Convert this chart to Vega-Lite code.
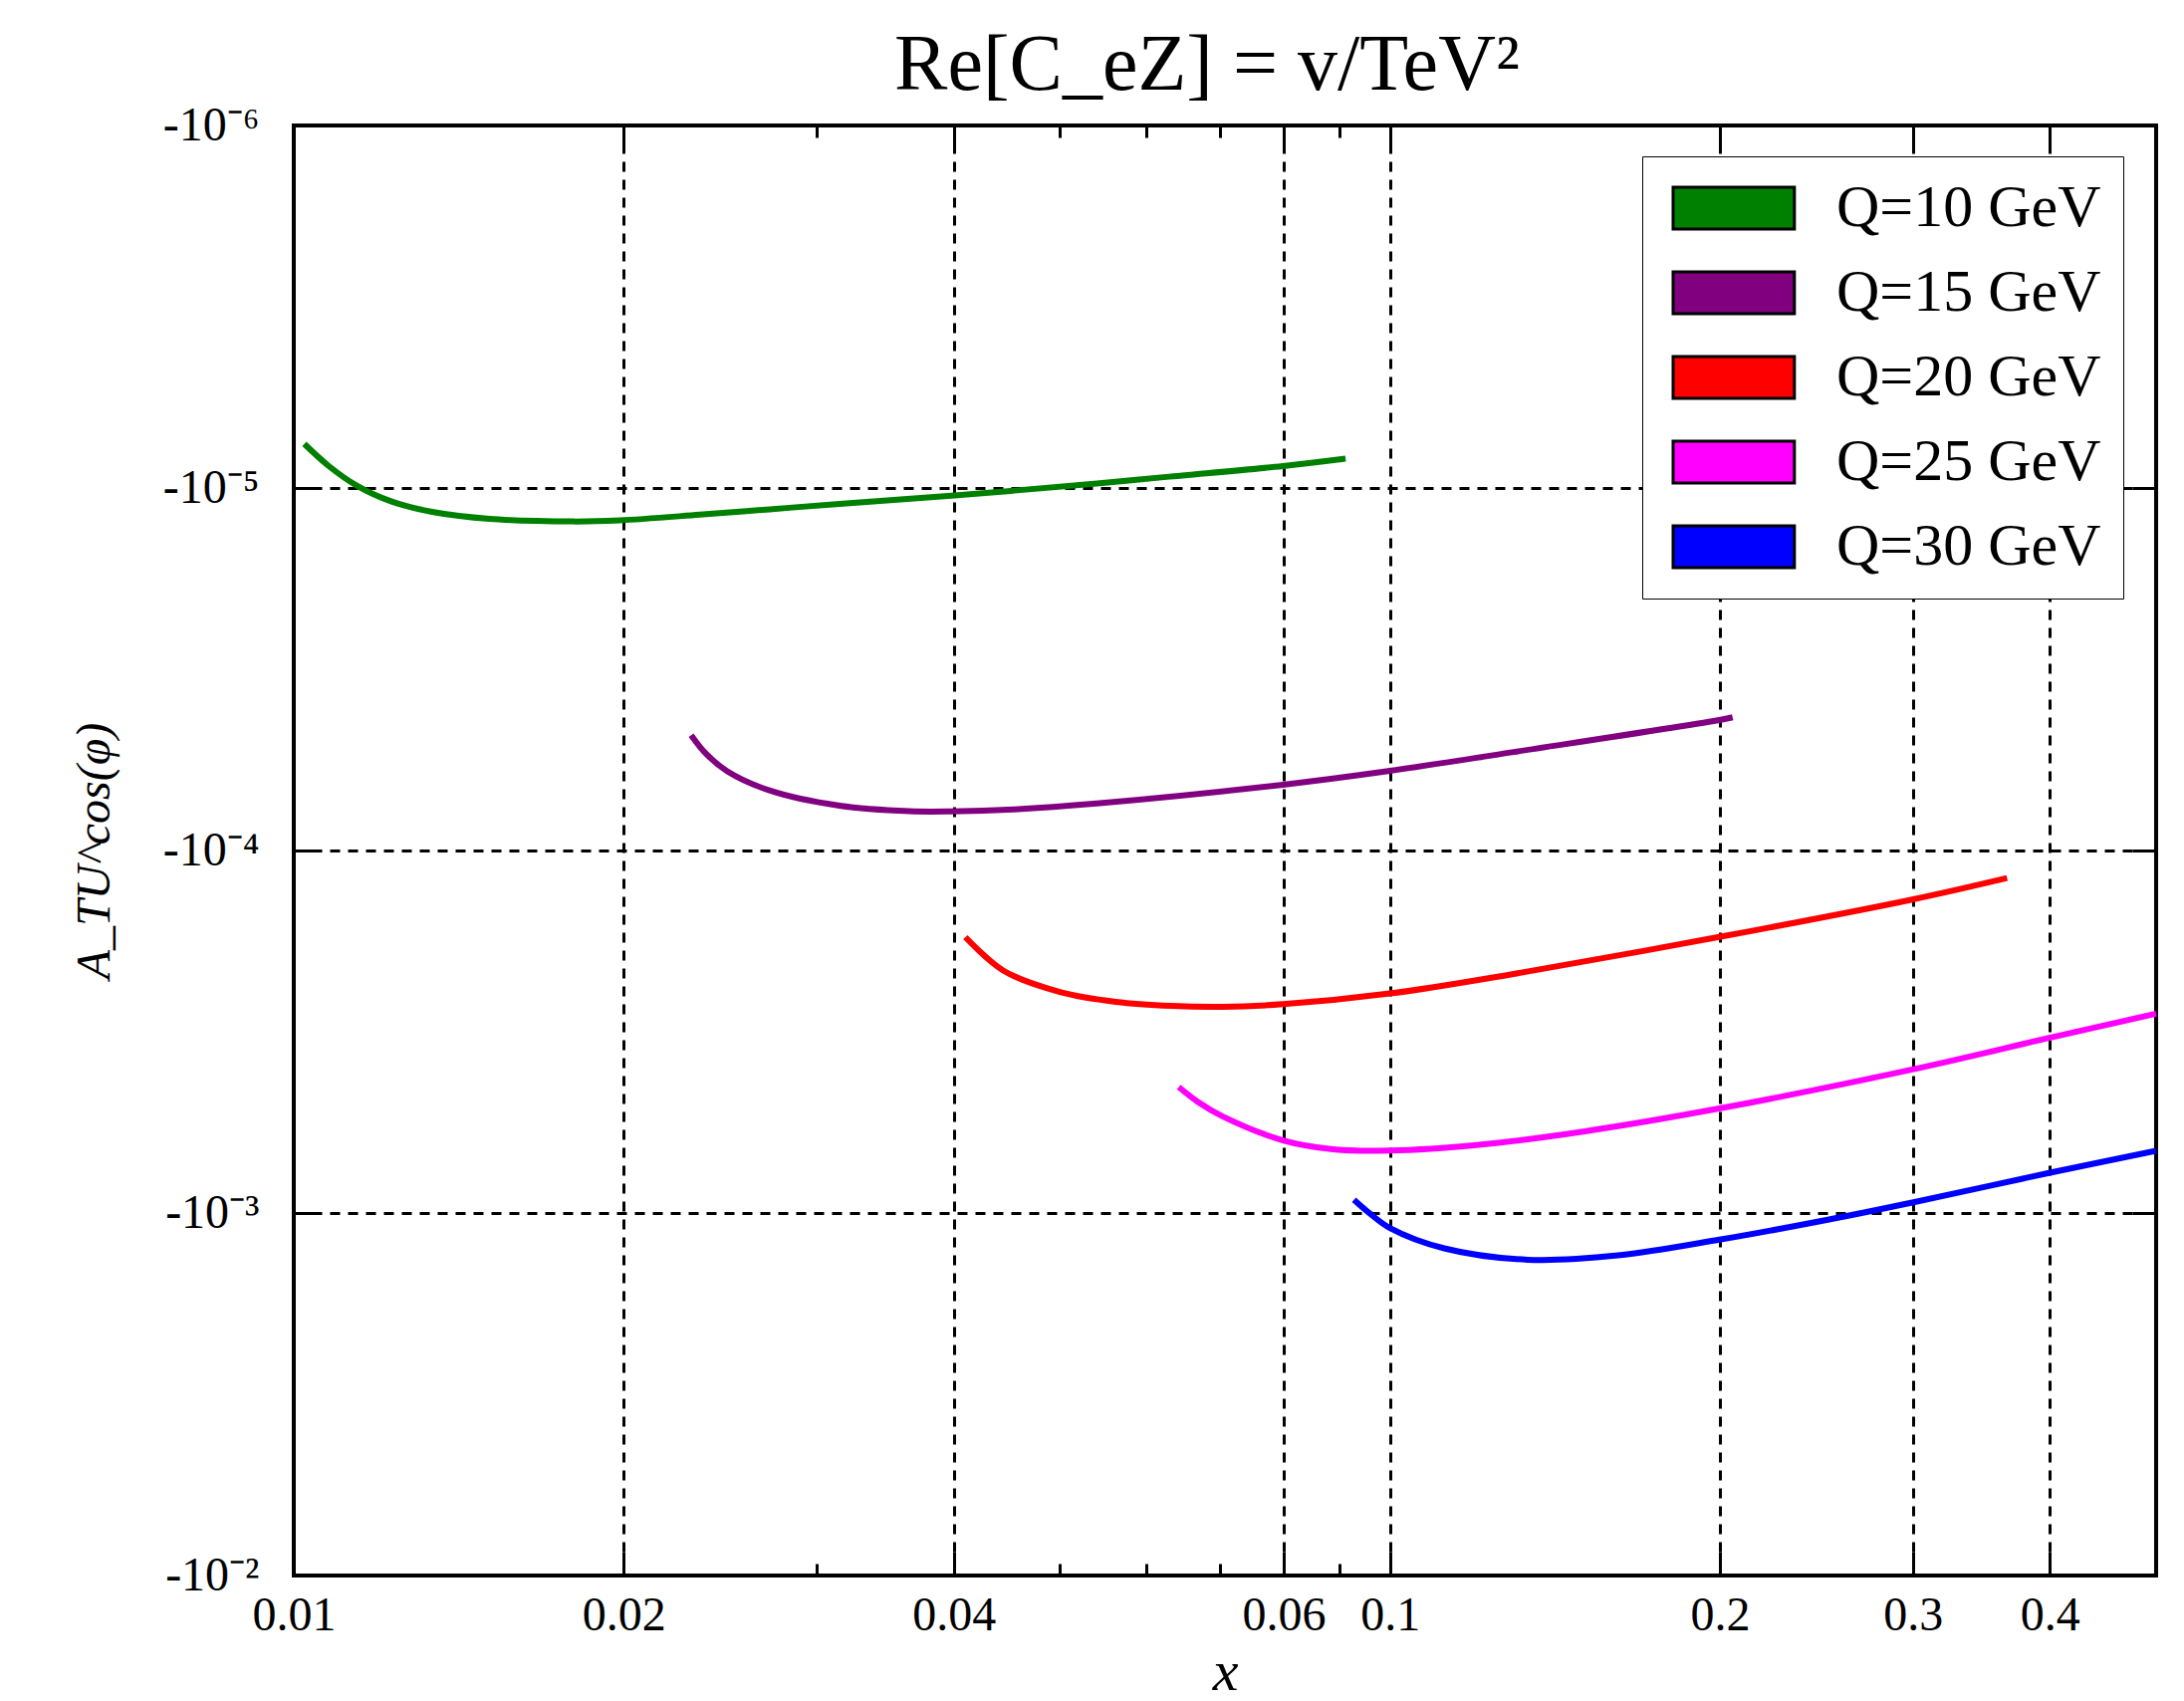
{
  "$schema": "https://vega.github.io/schema/vega-lite/v6.json",
  "width": 1870,
  "height": 1456,
  "autosize": {"type": "none"},
  "padding": {"left": 295, "top": 126, "right": 28, "bottom": 126},
  "background": "white",
  "title": {"text": "Re[C_eZ] = v/TeV²", "font": "Liberation Serif", "fontSize": 80, "fontWeight": "normal", "color": "black", "anchor": "middle", "baseline": "alphabetic", "offset": 34, "dx": -18, "dy": 102},
  "config": {
    "view": {"stroke": "black", "strokeWidth": 4},
    "axis": {"tickColor": "black", "tickWidth": 3, "domain": false, "labelColor": "black", "labelFont": "Liberation Serif", "titleColor": "black", "titleFont": "Liberation Serif", "titleFontWeight": "normal"}
  },
  "data": {"values": [
    {"Q": "Q=10 GeV", "x": 0.010224, "A": -7.56e-6},
    {"Q": "Q=10 GeV", "x": 0.010763, "A": -8.70e-6},
    {"Q": "Q=10 GeV", "x": 0.011415, "A": -9.85e-6},
    {"Q": "Q=10 GeV", "x": 0.012284, "A": -1.090e-5},
    {"Q": "Q=10 GeV", "x": 0.013417, "A": -1.166e-5},
    {"Q": "Q=10 GeV", "x": 0.015092, "A": -1.217e-5},
    {"Q": "Q=10 GeV", "x": 0.017993, "A": -1.237e-5},
    {"Q": "Q=10 GeV", "x": 0.019826, "A": -1.228e-5},
    {"Q": "Q=10 GeV", "x": 0.023452, "A": -1.185e-5},
    {"Q": "Q=10 GeV", "x": 0.027164, "A": -1.145e-5},
    {"Q": "Q=10 GeV", "x": 0.031465, "A": -1.106e-5},
    {"Q": "Q=10 GeV", "x": 0.039796, "A": -1.050e-5},
    {"Q": "Q=10 GeV", "x": 0.054032, "A": -9.72e-6},
    {"Q": "Q=10 GeV", "x": 0.062515, "A": -9.32e-6},
    {"Q": "Q=10 GeV", "x": 0.079887, "A": -8.70e-6},
    {"Q": "Q=10 GeV", "x": 0.091107, "A": -8.30e-6},
    {"Q": "Q=15 GeV", "x": 0.02304, "A": -4.805e-5},
    {"Q": "Q=15 GeV", "x": 0.02379, "A": -5.42e-5},
    {"Q": "Q=15 GeV", "x": 0.02486, "A": -6.046e-5},
    {"Q": "Q=15 GeV", "x": 0.02716, "A": -6.825e-5},
    {"Q": "Q=15 GeV", "x": 0.03147, "A": -7.522e-5},
    {"Q": "Q=15 GeV", "x": 0.03644, "A": -7.79e-5},
    {"Q": "Q=15 GeV", "x": 0.0398, "A": -7.80e-5},
    {"Q": "Q=15 GeV", "x": 0.04544, "A": -7.70e-5},
    {"Q": "Q=15 GeV", "x": 0.05403, "A": -7.42e-5},
    {"Q": "Q=15 GeV", "x": 0.07989, "A": -6.583e-5},
    {"Q": "Q=15 GeV", "x": 0.1, "A": -6.03e-5},
    {"Q": "Q=15 GeV", "x": 0.1297, "A": -5.35e-5},
    {"Q": "Q=15 GeV", "x": 0.2003, "A": -4.36e-5},
    {"Q": "Q=15 GeV", "x": 0.2054, "A": -4.29e-5},
    {"Q": "Q=20 GeV", "x": 0.04099, "A": -1.734e-4},
    {"Q": "Q=20 GeV", "x": 0.04446, "A": -2.15e-4},
    {"Q": "Q=20 GeV", "x": 0.05, "A": -2.456e-4},
    {"Q": "Q=20 GeV", "x": 0.05623, "A": -2.614e-4},
    {"Q": "Q=20 GeV", "x": 0.06322, "A": -2.684e-4},
    {"Q": "Q=20 GeV", "x": 0.07026, "A": -2.700e-4},
    {"Q": "Q=20 GeV", "x": 0.07989, "A": -2.655e-4},
    {"Q": "Q=20 GeV", "x": 0.1, "A": -2.48e-4},
    {"Q": "Q=20 GeV", "x": 0.1297, "A": -2.19e-4},
    {"Q": "Q=20 GeV", "x": 0.2003, "A": -1.729e-4},
    {"Q": "Q=20 GeV", "x": 0.3003, "A": -1.363e-4},
    {"Q": "Q=20 GeV", "x": 0.3656, "A": -1.191e-4},
    {"Q": "Q=25 GeV", "x": 0.06417, "A": -4.493e-4},
    {"Q": "Q=25 GeV", "x": 0.06676, "A": -4.93e-4},
    {"Q": "Q=25 GeV", "x": 0.07026, "A": -5.40e-4},
    {"Q": "Q=25 GeV", "x": 0.07989, "A": -6.303e-4},
    {"Q": "Q=25 GeV", "x": 0.08875, "A": -6.669e-4},
    {"Q": "Q=25 GeV", "x": 0.1, "A": -6.724e-4},
    {"Q": "Q=25 GeV", "x": 0.1206, "A": -6.482e-4},
    {"Q": "Q=25 GeV", "x": 0.1501, "A": -5.96e-4},
    {"Q": "Q=25 GeV", "x": 0.2003, "A": -5.141e-4},
    {"Q": "Q=25 GeV", "x": 0.3003, "A": -4.013e-4},
    {"Q": "Q=25 GeV", "x": 0.4022, "A": -3.273e-4},
    {"Q": "Q=25 GeV", "x": 0.5, "A": -2.819e-4},
    {"Q": "Q=30 GeV", "x": 0.09272, "A": -9.199e-4},
    {"Q": "Q=30 GeV", "x": 0.09616, "A": -1.0108e-3},
    {"Q": "Q=30 GeV", "x": 0.1, "A": -1.1000e-3},
    {"Q": "Q=30 GeV", "x": 0.1121, "A": -1.2518e-3},
    {"Q": "Q=30 GeV", "x": 0.1335, "A": -1.3452e-3},
    {"Q": "Q=30 GeV", "x": 0.1615, "A": -1.3091e-3},
    {"Q": "Q=30 GeV", "x": 0.2003, "A": -1.183e-3},
    {"Q": "Q=30 GeV", "x": 0.2502, "A": -1.0452e-3},
    {"Q": "Q=30 GeV", "x": 0.3003, "A": -9.34e-4},
    {"Q": "Q=30 GeV", "x": 0.4022, "A": -7.715e-4},
    {"Q": "Q=30 GeV", "x": 0.5, "A": -6.737e-4}
  ]},
  "resolve": {"axis": {"x": "independent", "y": "independent"}},
  "layer": [
    {
      "mark": {"type": "line", "strokeWidth": 6, "interpolate": "catmull-rom"},
      "encoding": {
        "x": {"field": "x", "type": "quantitative",
          "scale": {"type": "log", "domain": [0.01, 0.5], "nice": false},
          "axis": {"orient": "bottom", "values": [0.01, 0.02, 0.04, 0.08, 0.1, 0.2, 0.3, 0.4],
            "labelExpr": "datum.value > 0.07 && datum.value < 0.09 ? '0.06' : format(datum.value, '.2~f')",
            "tickSize": -24, "labelPadding": 40, "labelFontSize": 48, "labelFlush": false, "labelOverlap": false,
            "grid": true, "gridColor": "black", "gridDash": [10, 8], "gridWidth": 3, "gridOpacity": 1,
            "title": "x", "titleFontSize": 58, "titleFontStyle": "italic", "titleY": 114, "titleBaseline": "alphabetic"}},
        "y": {"field": "A", "type": "quantitative",
          "scale": {"type": "log", "domain": [-0.01, -0.000001], "nice": false},
          "axis": {"orient": "left", "values": [-0.000001, -0.00001, -0.0001, -0.001, -0.01],
            "labelExpr": "datum.value > -0.000005 ? '-10⁻⁶' : datum.value > -0.00005 ? '-10⁻⁵' : datum.value > -0.0005 ? '-10⁻⁴' : datum.value > -0.005 ? '-10⁻³' : '-10⁻²'",
            "tickSize": -24, "labelPadding": 59, "labelFontSize": 48, "labelFlush": false, "labelOverlap": false,
            "grid": true, "gridColor": "black", "gridDash": [10, 8], "gridWidth": 3, "gridOpacity": 1,
            "title": "A_TU^cos(φ)", "titleFontSize": 48, "titleFontStyle": "italic", "titleAngle": 270,
            "titleX": -200, "titleY": 728, "titleAlign": "center", "titleBaseline": "middle"}},
        "color": {"field": "Q", "type": "nominal",
          "scale": {"range": ["#008000", "#800080", "#ff0000", "#ff00ff", "#0000ff"]},
          "legend": null}
      }
    },
    {
      "transform": [{"filter": "false"}],
      "mark": {"type": "point", "shape": "M-1,-1H4.8V1H-1Z", "filled": true, "stroke": "black", "strokeWidth": 3, "opacity": 1},
      "encoding": {
        "x": {"field": "x", "type": "quantitative", "scale": {"type": "log", "domain": [0.01, 0.5], "nice": false}, "axis": null},
        "y": {"field": "A", "type": "quantitative", "scale": {"type": "log", "domain": [-0.01, -0.000001], "nice": false}, "axis": null},
        "fill": {"field": "Q", "type": "nominal",
          "scale": {"domain": ["Q=10 GeV", "Q=15 GeV", "Q=20 GeV", "Q=25 GeV", "Q=30 GeV"],
                    "range": ["#008000", "#800080", "#ff0000", "#ff00ff", "#0000ff"]},
          "legend": {"orient": "none", "legendX": 1354, "legendY": 31, "title": null,
            "symbolType": "M-1,-1H4.8V1H-1Z", "symbolSize": 1764, "symbolStrokeWidth": 3, "symbolStrokeColor": "black", "symbolOpacity": 1,
            "labelFont": "Liberation Serif", "labelFontSize": 60, "labelColor": "black", "labelOffset": 113, "labelLimit": 0,
            "strokeColor": "black", "fillColor": "white", "padding": 22, "rowPadding": 25,
            "encode": {"legend": {"strokeWidth": {"value": 3}}}}}
      }
    },
    {
      "mark": {"type": "point", "opacity": 0},
      "encoding": {
        "x": {"field": "x", "type": "quantitative", "scale": {"type": "log", "domain": [0.01, 0.5], "nice": false},
          "axis": {"orient": "bottom", "values": [0.03, 0.05, 0.06, 0.07, 0.09], "tickSize": -12, "labels": false, "grid": false, "title": null}},
        "y": {"field": "A", "type": "quantitative", "scale": {"type": "log", "domain": [-0.01, -0.000001], "nice": false},
          "axis": {"orient": "right", "values": [-0.000001, -0.00001, -0.0001, -0.001, -0.01], "tickSize": -24, "labels": false, "grid": false, "title": null}}
      }
    },
    {
      "mark": {"type": "point", "opacity": 0},
      "encoding": {
        "x": {"field": "x", "type": "quantitative", "scale": {"type": "log", "domain": [0.01, 0.5], "nice": false},
          "axis": {"orient": "top", "values": [0.01, 0.02, 0.04, 0.08, 0.1, 0.2, 0.3, 0.4], "tickSize": -24, "labels": false, "grid": false, "title": null}},
        "y": {"field": "A", "type": "quantitative", "scale": {"type": "log", "domain": [-0.01, -0.000001], "nice": false}, "axis": null}
      }
    },
    {
      "mark": {"type": "point", "opacity": 0},
      "encoding": {
        "x": {"field": "x", "type": "quantitative", "scale": {"type": "log", "domain": [0.01, 0.5], "nice": false},
          "axis": {"orient": "top", "values": [0.03, 0.05, 0.06, 0.07, 0.09], "tickSize": -12, "labels": false, "grid": false, "title": null}},
        "y": {"field": "A", "type": "quantitative", "scale": {"type": "log", "domain": [-0.01, -0.000001], "nice": false}, "axis": null}
      }
    }
  ]
}
